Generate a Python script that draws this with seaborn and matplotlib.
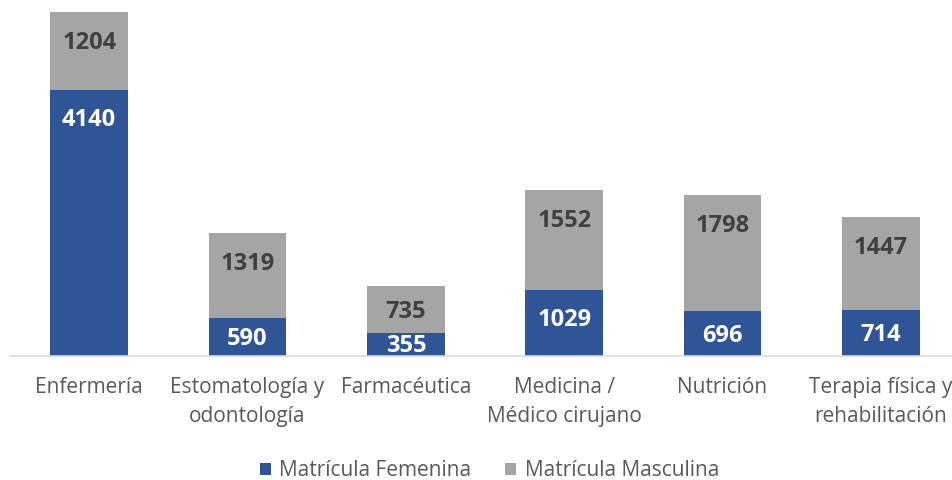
import matplotlib
matplotlib.use("Agg")
import matplotlib.pyplot as plt
from matplotlib.patches import Patch
import seaborn as sns
import pandas as pd
import numpy as np

categories = ["Enfermería", "Estomatología y\nodontología", "Farmacéutica",
              "Medicina /\nMédico cirujano", "Nutrición", "Terapia física y\nrehabilitación"]
femenina = [4140, 590, 355, 1029, 696, 714]
masculina = [1204, 1319, 735, 1552, 1798, 1447]
series_names = ["Matrícula Femenina", "Matrícula Masculina"]

sns.set_style("white")
plt.rcParams['font.family'] = ['Open Sans', 'DejaVu Sans']

BLUE = "#2F5597"
GRAY = "#A5A5A5"

df = pd.DataFrame({"cat": categories, "fem": femenina, "mas": masculina})
df["total"] = df["fem"] + df["mas"]

fig = plt.figure(figsize=(9.52, 4.8), dpi=100)
ax = fig.add_axes([10/952, 1-356/480, 950/952, 356/480])

sns.barplot(data=df, x="cat", y="total", color=GRAY, saturation=1, width=0.49, ax=ax, linewidth=0)
sns.barplot(data=df, x="cat", y="fem", color=BLUE, saturation=1, width=0.49, ax=ax, linewidth=0)

ax.set_xlim(-0.5, 5.5)
ax.set_ylim(0, 5531)
ax.set_xlabel("")
ax.set_ylabel("")
ax.set_yticks([])
for s in ["top", "right", "left"]:
    ax.spines[s].set_visible(False)
ax.spines["bottom"].set_color("#D9D9D9")
ax.spines["bottom"].set_linewidth(1.2)
ax.tick_params(axis="x", length=0, pad=15, labelsize=15, labelcolor="#595959")
for t in ax.get_xticklabels():
    t.set_linespacing(1.5)

def px_height(v):
    return ax.transData.transform((0, v))[1] - ax.transData.transform((0, 0))[1]

for i in range(len(categories)):
    f = femenina[i]
    m = masculina[i]
    off_f = min(30, 0.55 * px_height(f))
    ax.annotate(str(f), xy=(i, f), xytext=(0, -off_f), textcoords="offset pixels",
                ha="center", va="center", color="white", fontsize=17, fontweight="bold")
    off_m = min(31, 0.55 * px_height(m))
    ax.annotate(str(m), xy=(i, f + m), xytext=(0, -off_m), textcoords="offset pixels",
                ha="center", va="center", color="#404040", fontsize=17, fontweight="bold")

handles = [Patch(facecolor=BLUE, edgecolor="none"), Patch(facecolor=GRAY, edgecolor="none")]
fig.legend(handles, series_names, loc="center", bbox_to_anchor=(0.514, 1-471/480), ncol=2,
           frameon=False, fontsize=15, labelcolor="#595959", handlelength=0.55, handleheight=0.55,
           handletextpad=0.4, columnspacing=1.6)

fig.savefig("out.png", dpi=100)
